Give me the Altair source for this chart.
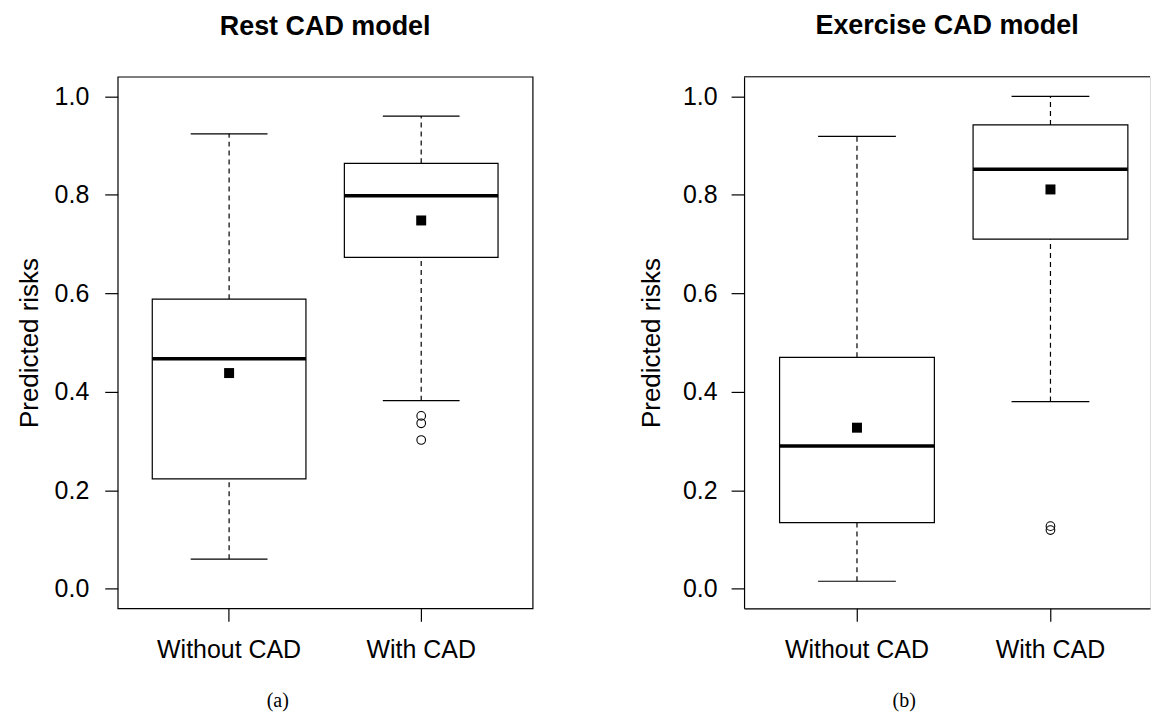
import altair as alt
import pandas as pd

categories = ["Without CAD", "With CAD"]

# Rest CAD model (a)
rest_low = [0.060, 0.382]
rest_q1 = [0.223, 0.673]
rest_median = [0.467, 0.798]
rest_q3 = [0.588, 0.864]
rest_high = [0.924, 0.960]
rest_mean = [0.438, 0.748]
rest_outlier_group = ["With CAD", "With CAD", "With CAD"]
rest_outliers = [0.351, 0.336, 0.302]

# Exercise CAD model (b)
ex_low = [0.015, 0.380]
ex_q1 = [0.134, 0.710]
ex_median = [0.290, 0.852]
ex_q3 = [0.470, 0.942]
ex_high = [0.919, 1.000]
ex_mean = [0.327, 0.811]
ex_outlier_group = ["With CAD", "With CAD"]
ex_outliers = [0.127, 0.119]

y_ticks = [0.0, 0.2, 0.4, 0.6, 0.8, 1.0]

FONT = "Liberation Sans"
LW = 1.2
H = 533


def panel(title, caption, low, q1, med, q3, high, mean, og, ov,
          width, pad_outer, align, cap_size, band_w, title_pad, label_pad,
          framed):
    box = pd.DataFrame({"group": categories, "low": low, "q1": q1,
                        "median": med, "q3": q3, "high": high, "mean": mean})
    outl = pd.DataFrame({"group": og, "value": ov})

    xscale = alt.Scale(domain=categories, paddingInner=0.2,
                       paddingOuter=pad_outer, align=align)
    yscale = alt.Scale(domain=[-0.04, 1.04], nice=False, zero=False)
    xaxis = alt.Axis(title=caption, labelAngle=0, labelFont=FONT,
                     labelFontSize=25, labelColor="black", labelPadding=16,
                     tickSize=13, tickColor="black", tickWidth=LW,
                     domain=not framed, domainColor="black", domainWidth=LW,
                     grid=False, titleFont="Liberation Serif",
                     titleFontSize=20, titleFontWeight="normal",
                     titleColor="black", titleX=160, titleY=92,
                     titleBaseline="middle", titleAlign="center")
    yaxis = alt.Axis(title="Predicted risks", values=y_ticks, format=".1f",
                     labelFont=FONT, labelFontSize=25, labelColor="black",
                     labelPadding=label_pad, tickSize=13, tickColor="black",
                     tickWidth=LW, domain=not framed, domainColor="black",
                     domainWidth=LW, grid=False, titleFont=FONT,
                     titleFontSize=26, titleFontWeight="normal",
                     titleColor="black", titlePadding=title_pad)

    def X():
        return alt.X("group:N", scale=xscale, axis=xaxis, sort=categories)

    def Y(f):
        return alt.Y(f, scale=yscale, axis=yaxis)

    base = alt.Chart(box)
    upper = base.mark_rule(color="black", strokeWidth=LW, strokeDash=[5, 4]).encode(
        x=X(), y=Y("q3:Q"), y2="high:Q")
    lower = base.mark_rule(color="black", strokeWidth=LW, strokeDash=[5, 4]).encode(
        x=X(), y=Y("low:Q"), y2="q1:Q")
    cap_hi = base.mark_tick(color="black", size=cap_size, thickness=LW, opacity=1).encode(
        x=X(), y=Y("high:Q"))
    cap_lo = base.mark_tick(color="black", size=cap_size, thickness=LW, opacity=1).encode(
        x=X(), y=Y("low:Q"))
    boxes = base.mark_bar(fill="white", stroke="black", strokeWidth=LW).encode(
        x=X(), y=Y("q1:Q"), y2="q3:Q")
    medians = base.mark_tick(color="black", size=band_w, thickness=3.5, opacity=1).encode(
        x=X(), y=Y("median:Q"))
    means = base.mark_square(color="black", filled=True, size=100, opacity=1).encode(
        x=X(), y=Y("mean:Q"))
    outs = alt.Chart(outl).mark_point(shape="circle", filled=False, color="black",
                                      size=75, strokeWidth=1.1, opacity=1).encode(
        x=X(), y=Y("value:Q"))

    layers = [upper, lower, cap_hi, cap_lo, boxes, medians, means, outs]
    if not framed:
        top = alt.Chart(pd.DataFrame({"edge": [0]})).mark_rule(
            color="black", strokeWidth=LW).encode(
            x=alt.value(0), x2=alt.value(width), y=alt.value(0))
        layers.append(top)

    ch = alt.layer(*layers).properties(
        width=width, height=H,
        title=alt.TitleParams(title, font=FONT, fontSize=27, fontWeight="bold",
                              color="black", offset=36, anchor="middle"))
    if framed:
        ch = ch.properties(view=alt.ViewBackground(stroke="black", strokeWidth=LW))
    return ch


left = panel("Rest CAD model", "(a)", rest_low, rest_q1, rest_median, rest_q3,
             rest_high, rest_mean, rest_outlier_group, rest_outliers,
             width=416, pad_outer=0.18, align=0.5, cap_size=77, band_w=154,
             title_pad=12, label_pad=16, framed=True)

right = panel("Exercise CAD model", "(b)", ex_low, ex_q1, ex_median, ex_q3,
              ex_high, ex_mean, ex_outlier_group, ex_outliers,
              width=407, pad_outer=0.149, align=0.616, cap_size=78, band_w=155,
              title_pad=18, label_pad=14, framed=False)

chart = alt.hconcat(left, right, spacing=104).properties(
    padding={"left": 15, "top": 10, "right": 0, "bottom": 0}
).configure_view(strokeWidth=0).configure(background="white")

chart.save("out.html", embed_options={"renderer": "svg", "actions": False})
